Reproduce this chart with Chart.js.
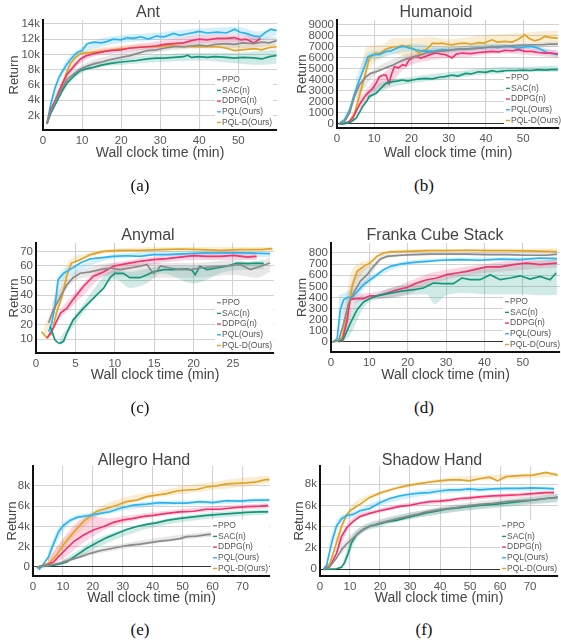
<!DOCTYPE html>
<html>
<head>
<meta charset="utf-8">
<script src="https://cdn.jsdelivr.net/npm/chart.js@4.4.1/dist/chart.umd.min.js"></script>
<style>
  body { margin: 0; background: #fff; }
  #page { position: relative; width: 561px; height: 642px; overflow: hidden; }
  canvas { position: absolute; }
  .ttl { position: absolute; transform: translate(-50%, -50%); font: 16px "Liberation Sans", Arial, sans-serif; color: #444; white-space: nowrap; }
  .cap { position: absolute; transform: translate(-50%, -50%); font: 17px "Liberation Serif", "Times New Roman", serif; color: #111; }
</style>
</head>
<body>
<div id="page"></div>
<script>
// legend + colours
const methodNames = ['PPO', 'SAC(n)', 'DDPG(n)', 'PQL(Ours)', 'PQL-D(Ours)'];
const methodColors = ['#8a8a8a', '#13977b', '#ef3470', '#2bb4f0', '#e1a326'];

// tick values
const min60Ticks = [0, 10, 20, 30, 40, 50];
const min30Ticks = [0, 5, 10, 15, 20, 25];
const min80Ticks = [0, 10, 20, 30, 40, 50, 60, 70];
const antYTicks = [2, 4, 6, 8, 10, 12, 14];
const humYTicks = [0, 1000, 2000, 3000, 4000, 5000, 6000, 7000, 8000, 9000];
const anyYTicks = [10, 20, 30, 40, 50, 60, 70];
const frYTicks = [0, 100, 200, 300, 400, 500, 600, 700, 800];
const handYTicks = [0, 2, 4, 6, 8];

// ---- Ant (k) ----
const antPPO = [[1,0.9],[2,2.6],[3.6,4.3],[5,5.7],[6.2,6.75],[8,7.5],[9.6,8.1],[11,8.4],[13,8.75],[15,9.0],[17,9.3],[20,9.6],[22,9.8],[24,10.1],[26.7,10.5],[29,10.6],[31,10.8],[33.5,11.0],[36,11.0],[38,11.1],[40,11.2],[42,11.1],[44,11.3],[47,11.4],[49,11.3],[51,11.5],[54,11.4],[56,11.6],[58,11.5],[59.8,11.8]];
const antSAC = [[1,0.9],[2,2.3],[3.6,3.9],[5,5.3],[6.2,6.3],[8,7.2],[9.6,7.9],[11,8.1],[13,8.3],[15,8.6],[17,8.8],[20,9.0],[22,9.1],[24,9.2],[26.7,9.4],[29,9.5],[31,9.5],[33.5,9.6],[36,9.7],[37,9.9],[38,9.6],[40,9.7],[42,9.6],[44,9.7],[47,9.6],[49,9.5],[51,9.6],[54,9.55],[56,9.4],[58,9.7],[59.8,9.85]];
const antDDPG = [[1,0.9],[2,2.8],[3.6,4.5],[5,6.2],[6.2,7.4],[8,8.5],[9.6,9.4],[11,9.8],[13,10.1],[15,10.3],[17,10.5],[20,10.6],[22,10.8],[24,10.9],[26.7,11.0],[29,11.1],[31,11.3],[33.5,11.4],[36,11.5],[38,11.8],[40,12.0],[42,11.9],[44.6,12.1],[47,12.1],[49,12.2],[50.7,11.9],[52,12.0],[54,11.5],[55.7,12.1]];
const antPQL = [[1,0.9],[2,3.5],[3,5.5],[4,6.9],[5,7.8],[6,8.6],[7,9.3],[8,9.9],[9,10.3],[10,10.5],[11.3,11.4],[13,11.6],[15,11.5],[16.5,11.7],[18,12.0],[20,11.9],[21.5,12.2],[23,12.1],[25,12.3],[27,12.0],[29,12.4],[31,12.3],[33.5,12.75],[35,12.5],[37,12.7],[40,13.0],[42,12.8],[44.6,12.9],[47,12.8],[49,13.3],[50.5,12.9],[52,12.75],[54,12.4],[55.5,12.3],[57,12.9],[58.3,13.3],[59.8,13.1]];
const antPQLD = [[1,1.0],[2,2.5],[3.2,3.9],[4,5.0],[5.3,6.5],[6,7.6],[7,8.8],[8.3,9.6],[9.6,10.1],[11,10.2],[13,10.3],[15,10.4],[17,10.5],[20,10.75],[22,10.8],[24,10.9],[26.7,11.0],[29,11.0],[31,11.1],[33.5,11.1],[36,11.0],[38,11.05],[40,11.0],[42,11.0],[44.6,11.0],[47,10.8],[49,10.5],[51,10.6],[54,10.75],[56,10.6],[58,10.9],[59.8,11.0]];
const antBands = [
  [[3,3.5,4.3],[6,6.2,7.0],[10,7.7,8.6],[20,9.2,10.2],[30,10.3,11.3],[40,10.8,11.8],[50,10.8,12.0],[59.8,11.2,12.3]],
  [[2,2.0,2.6],[5,5.0,5.7],[10,7.6,8.3],[20,8.6,9.4],[30,9.0,10.0],[40,9.2,10.2],[50,8.8,10.2],[55,8.6,10.4],[59.8,8.8,10.6]],
  [[3,3.8,4.6],[6,6.8,7.6],[10,9.0,9.8],[20,10.2,11.0],[30,10.8,11.8],[40,11.4,12.5],[50,11.6,12.6],[55.7,11.7,12.5]],
  [[2,3.0,4.0],[5,7.2,8.4],[10,10.0,11.0],[15,11.0,12.1],[20,11.5,12.5],[30,11.9,12.9],[40,12.4,13.4],[50,12.6,13.6],[55,11.8,13.0],[59.8,12.5,13.4]],
  [[3,3.5,4.2],[6,7.2,8.0],[10,9.9,10.4],[30,10.8,11.3],[59.8,10.7,11.3]]
];

// ---- Humanoid ----
const humPPO = [[0.7,50],[2,200],[3.4,1000],[4.7,2500],[6,3550],[7.8,4300],[9,4600],[10.5,4750],[12,4950],[13.1,5100],[15,5350],[15.8,5500],[17,5700],[18.5,5900],[20,6050],[21.1,6150],[23,6350],[23.8,6450],[25.5,6500],[27.4,6600],[29,6650],[30.9,6750],[33,6800],[34.5,6800],[36,6850],[38,6900],[40,6950],[41.6,7000],[44,7050],[46.9,7100],[49,7150],[52.2,7200],[55,7200],[57,7250],[59.3,7250]];
const humSAC = [[0.7,0],[3,80],[4,250],[5.2,550],[6.9,1600],[8,2100],[8.7,2500],[10.5,2800],[11.8,3250],[13.1,3700],[14.9,3850],[16,3900],[17.6,4000],[19,3900],[20.2,4000],[22,4100],[23.8,4150],[25.5,4100],[27.4,4250],[29,4300],[30.9,4450],[32.5,4350],[34.5,4600],[36,4550],[38,4750],[40,4700],[41.6,4850],[43,4750],[44.2,4800],[46,4850],[48,4850],[50,4900],[52,4850],[54,4950],[56,4900],[57.5,4950],[59.3,4950]];
const humDDPG = [[0.7,0],[3,150],[4.3,550],[6,1750],[7.8,2650],[9.6,3250],[10.5,3700],[11.4,4300],[12.5,4450],[13.1,4450],[14,3700],[14.6,4500],[15.4,5200],[16.5,5100],[17.6,5400],[18.5,5300],[19.4,5850],[21.1,6150],[22.5,6000],[23.8,6150],[25,6300],[26.5,6450],[28,6350],[29.1,6300],[30.9,6000],[32,6350],[33.6,6450],[36,6400],[38,6500],[40,6550],[41.6,6600],[43.5,6550],[45.1,6700],[47,6650],[48.7,6750],[50.5,6600],[52.2,6600],[54,6500],[55.8,6450],[57.5,6450],[59.3,6350]];
const humPQL = [[0.7,100],[2,400],[3.4,1300],[4.7,2800],[6,4000],[7.4,5200],[8.3,6100],[9.6,6300],[11.4,6300],[13.1,6600],[14.5,6650],[15.4,6800],[16.5,6950],[17.6,7050],[18.5,7000],[19.4,6900],[20.3,6850],[21.1,6750],[22,6700],[22.9,6600],[24,6650],[25.6,6600],[27,6700],[28.2,6750],[30,6700],[30.9,6750],[32.5,6800],[34.5,6800],[36,6850],[38,6900],[40,6950],[41.6,7050],[43,6950],[45.1,7050],[47,7000],[48.7,6900],[50.5,7000],[52.2,7050],[54,6900],[54.9,6750],[56.7,6450],[58,6400],[59.3,6300]];
const humPQLD = [[0.7,0],[2,50],[3.4,250],[4.7,1000],[6,2500],[7.4,4300],[8.7,6000],[10.5,6450],[11.4,6400],[12.3,6600],[13,6800],[14,6900],[15,7000],[16.7,7050],[17.5,7150],[18.5,7050],[19.4,7100],[20.2,6850],[21,6700],[22,6450],[23,6700],[23.8,6750],[24.7,7000],[25.6,7350],[27,7300],[28.2,7350],[29.5,7250],[30.9,7200],[32.5,7300],[34.5,7350],[36,7250],[38,7400],[39.5,7350],[41.6,7650],[43,7450],[45.1,7500],[47,7450],[48.7,7700],[50.4,8100],[51.5,7800],[53.1,7550],[54.5,7700],[55.8,7950],[57.5,7850],[59.3,7800]];
const humBands = [
  [[5,2000,3500],[10,4400,5000],[20,5800,6500],[30,6500,7000],[40,6800,7200],[59.3,7000,7500]],
  [[8,2100,2900],[12,3000,3800],[20,3700,4300],[30,4100,4700],[40,4500,5100],[50,4600,5200],[59.3,4700,5300]],
  [[6,1200,2300],[10,3000,4000],[14,3500,5000],[18,5000,6000],[25,5800,6600],[35,6100,6800],[45,6400,7000],[59.3,6000,6700]],
  [[5,2800,4000],[8,5400,6400],[12,6000,6700],[20,6600,7300],[30,6500,7000],[40,6700,7300],[50,6800,7300],[59.3,6100,6600]],
  [[5,500,1500],[8,4500,7000],[12,6000,7200],[15,6400,7800],[20,6000,7800],[25,6400,7900],[30,6700,7700],[40,7000,8100],[50,7400,8300],[59.3,7400,8500]]
];

// ---- Anymal ----
const anyPPO = [[1.6,21],[2.2,30],[3.1,39],[3.9,47],[4.7,52],[5.6,55],[6.9,56],[8.1,57.5],[9.4,58.6],[10.7,57.5],[11.9,58.6],[13.2,59.8],[14.1,61],[14.6,57],[14.9,55],[15.4,57],[15.8,60],[17,58.6],[18.3,57.5],[19.6,57.5],[20.8,58.6],[22.1,59.3],[23.4,59.8],[24.7,60.2],[25.9,61],[27.2,57.5],[28.5,59.8],[29.7,62]];
const anySAC = [[1.8,18.7],[2.4,9.5],[2.8,7.5],[3.1,7.3],[3.5,8.5],[3.9,14],[4.7,23],[6,31],[7.3,38],[8.6,45],[9.4,52],[10,55],[11.1,55],[11.9,52],[13.2,52],[14.1,54],[14.9,56],[16.2,57.5],[17.5,57.5],[19.2,58],[19.8,57],[20.2,54],[20.8,59.8],[21.7,57.5],[23,58.6],[24.2,59.8],[25.5,62],[26.8,61.6],[28,62],[28.9,61.6]];
const anyDDPG = [[1.4,10.7],[2.2,17.5],[3.1,27.8],[3.9,31],[4.7,37],[6,46],[7.3,53],[8.6,56],[9.8,59.8],[11.5,61.6],[13.2,63.2],[14.9,64.3],[16.6,65],[18.3,66],[20,67],[21.7,66.6],[23.4,66.6],[25.1,67.3],[26.8,66],[28,66.6]];
const anyPQL = [[1.6,15],[2,21],[2.4,32],[2.8,50.6],[3.5,55],[4.3,57.5],[5.6,62],[6.9,64.8],[8.1,65.5],[9.8,66.6],[11.5,67],[13.2,66.6],[14.9,67.8],[16.6,67.8],[19.2,68.4],[21.7,69],[24.2,69],[26.8,69],[29.7,68.4]];
const anyPQLD = [[0.7,15],[1.4,10.7],[2,14],[2.6,27.8],[3.3,39],[3.9,53],[4.5,62],[5.6,64.3],[6.9,67.8],[8.6,70],[10.7,70.7],[13.2,70.7],[15.8,71.2],[18.3,71.6],[20.8,71.2],[23.4,70.7],[25.9,71.2],[28.5,71.2],[30,71.8]];
const anyBands = [
  [[2,25,35],[4,45,52],[6,52,58],[10,53,62],[15,52,62],[20,52,62],[25,54,64],[28,52,62],[29.7,56,66]],
  [[3,5,10],[6,28,34],[10,51,57],[12,45,56],[14,48,58],[16,55,60],[20,48,60],[24,56,61],[28.9,58,64]],
  [[3,24,30],[6,40,48],[8,51,58],[12,58,64],[16,62,67],[20,64,69],[25,64,70],[28,64,69]],
  [[2,18,26],[3,45,55],[5,55,60],[10,65,68],[20,67,70],[29.7,66,69]],
  [[1,10,18],[3,35,43],[4,55,62],[6,64,68],[10,69,72],[20,70,73],[30,70,73]]
];

// ---- Franka Cube Stack ----
const frPPO = [[0.3,0],[2,15],[3.3,166],[4.6,350],[5.9,440],[7.6,545],[9.4,605],[11.1,680],[12.8,745],[14.6,770],[18,780],[21.5,785],[25.9,790],[30.2,790],[35.4,790],[40.6,785],[45.8,785],[51,780],[56.3,780],[58.9,790]];
const frSAC = [[2,0],[3.3,30],[5,165],[6.8,290],[8.5,360],[9.8,385],[12,415],[15.5,440],[18,455],[21.5,470],[24.1,485],[26.7,530],[29.3,525],[31.9,525],[34.1,575],[36.3,560],[38.9,560],[41.5,605],[44.1,560],[46.7,575],[49.3,595],[51.9,565],[54.5,590],[57.1,560],[58.7,620]];
const frDDPG = [[2.9,0],[4.2,195],[5,380],[6.3,390],[8.5,390],[10.2,415],[12,415],[14.6,440],[17.2,470],[19.8,490],[22.4,530],[25,560],[27.6,575],[30.2,605],[32.8,620],[35.4,635],[38,655],[40.6,675],[44.1,675],[47.6,695],[51,710],[54.5,695],[58.9,710]];
const frPQL = [[0.5,0],[1.6,30],[2.4,290],[3.3,380],[4.2,400],[5.5,400],[6.8,450],[8.5,515],[10.2,560],[12,605],[13.7,650],[15.5,680],[18,700],[21.5,715],[25,725],[28.5,735],[33.7,740],[38.9,735],[44.1,745],[49.3,740],[54.5,755],[58.9,750]];
const frPQLD = [[0.3,0],[2,10],[2.9,45],[4.2,225],[5.5,500],[6.8,635],[8.5,680],[10.2,710],[12,770],[13.7,800],[15.5,810],[19.8,815],[25,822],[30.2,822],[35.4,825],[40.6,822],[45.8,822],[51,820],[56.3,815],[58.9,812]];
const frBands = [
  [[3,100,250],[5,350,500],[7,450,650],[10,580,680],[14,750,790],[30,780,800],[58.9,775,800]],
  [[3,0,50],[5,60,260],[8,280,420],[10,360,410],[15,390,480],[20,420,520],[25,430,560],[27,340,560],[30,420,600],[35,440,640],[40,430,680],[45,430,700],[50,430,720],[55,420,730],[58.9,420,750]],
  [[4,50,300],[6,340,420],[10,380,440],[15,400,480],[20,430,540],[25,500,610],[30,560,650],[40,620,700],[50,650,740],[58.9,670,740]],
  [[2,50,420],[4,350,450],[6,380,480],[10,530,590],[20,690,730],[40,730,760],[58.9,735,765]],
  [[3,0,150],[5,350,600],[7,550,700],[10,680,740],[14,790,820],[30,810,835],[58.9,805,840]]
];

// ---- Allegro Hand (k) ----
const alPPO = [[1.3,0],[5.8,0.2],[9.1,0.4],[12.4,0.7],[15.8,1.0],[19.1,1.35],[22.4,1.6],[25.8,1.8],[29.1,2.0],[32.4,2.15],[35.8,2.25],[39.1,2.4],[42.4,2.55],[45.8,2.65],[49.1,2.8],[51.3,3.0],[54.7,3.05],[58,3.2],[60,3.25]];
const alSAC = [[1.3,0],[5.8,0.1],[9.1,0.3],[11.3,0.5],[14.7,1.2],[18,1.85],[21.3,2.4],[24.7,2.9],[28,3.3],[31.3,3.7],[34.7,4.0],[38,4.2],[41.3,4.35],[44.7,4.6],[49.1,4.8],[53.6,4.95],[58,5.1],[62.4,5.2],[66.9,5.3],[71.3,5.4],[75.8,5.45],[78.6,5.45]];
const alDDPG = [[1.3,0],[4.7,0.2],[6.9,0.5],[9.1,1.2],[11.3,1.85],[13.6,2.5],[16.9,3.15],[20.2,3.65],[23.6,4.0],[26.9,4.4],[30.2,4.65],[33.6,4.8],[36.9,5.0],[40.2,5.1],[44.7,5.3],[49.1,5.45],[53.6,5.5],[58,5.7],[62.4,5.7],[66.9,5.85],[71.3,5.95],[75.8,6.0],[78.6,6.05]];
const alPQL = [[1.3,0],[2.2,-0.2],[3.6,0.35],[5.2,1.0],[6.9,2.3],[8.6,3.5],[10.2,4.1],[12.4,4.6],[14.7,4.9],[16.9,5.0],[19.1,5.1],[22.4,5.3],[25.8,5.45],[29.1,5.8],[33.6,6.1],[38,6.2],[42.4,6.35],[46.9,6.3],[51.3,6.3],[55.8,6.45],[60.2,6.35],[64.7,6.55],[69.1,6.5],[73.6,6.6],[79,6.6]];
const alPQLD = [[1.3,0],[3.6,0.2],[5.8,0.5],[8,1.2],[10.2,2.2],[12.4,3.0],[14.7,3.8],[16.9,4.5],[19.1,5.0],[21.3,5.5],[24.7,5.8],[28,6.1],[31.3,6.45],[34.7,6.6],[38,6.95],[41.3,7.1],[44.7,7.25],[48,7.5],[51.3,7.6],[54.7,7.65],[58,7.9],[61.3,8.0],[64.7,8.2],[68,8.25],[71.3,8.3],[74.7,8.4],[78,8.65],[79,8.6]];
const alBands = [
  [[10,0.3,0.7],[20,1.2,1.7],[30,1.8,2.3],[40,2.3,2.8],[50,2.7,3.2],[60,3.0,3.5]],
  [[10,0.2,0.7],[15,0.9,1.6],[20,1.7,2.6],[30,3.0,3.7],[40,3.9,4.5],[60,4.8,5.4],[78.6,5.2,5.7]],
  [[5,0.1,0.8],[10,0.8,2.8],[15,2.0,4.5],[20,3.0,5.0],[25,3.8,4.8],[30,4.3,5.0],[40,4.9,5.4],[60,5.5,6.0],[78.6,5.8,6.3]],
  [[5,0.6,1.5],[8,2.5,3.6],[12,4.2,4.8],[20,4.9,5.4],[40,6.0,6.5],[60,6.2,6.6],[79,6.4,6.8]],
  [[5,0.3,0.7],[10,1.8,2.6],[20,4.7,5.5],[30,6.0,6.8],[40,6.8,7.4],[50,7.2,8.0],[60,7.6,8.4],[70,7.9,8.8],[79,8.3,9.0]]
];

// ---- Shadow Hand (k) ----
const shPPO = [[1.1,0],[3.3,0.25],[5.5,1.05],[7.2,1.85],[8.9,2.4],[11.1,2.95],[13.3,3.5],[15.5,3.9],[18.8,4.25],[22.1,4.5],[25.5,4.75],[28.8,4.95],[32.1,5.15],[35.4,5.4],[38.8,5.55],[42.1,5.7],[45.4,5.8],[48.7,5.95],[53.2,6.1],[57.6,6.2],[62,6.35],[66.4,6.45],[70.9,6.5],[75.3,6.65],[79.2,6.75]];
const shSAC = [[1.1,0],[5.5,0.05],[7.2,0.2],[8.3,0.7],[9.4,1.5],[10.5,2.5],[12.2,3.25],[14.4,3.75],[16.6,4.05],[18.8,4.2],[22.1,4.45],[25.5,4.6],[28.8,4.85],[32.1,5.05],[35.4,5.3],[38.8,5.45],[42.1,5.65],[45.4,5.75],[48.7,5.85],[53.2,6.0],[57.6,6.1],[62,6.2],[66.4,6.35],[70.9,6.5],[75.3,6.65],[79.2,6.75]];
const shDDPG = [[1.1,0],[3.3,0.25],[5.5,1.5],[7.2,3.1],[8.9,3.9],[11.1,4.5],[13.3,4.95],[16.6,5.25],[19.9,5.5],[23.3,5.7],[26.6,5.9],[29.9,6.0],[33.2,6.2],[36.5,6.35],[39.9,6.4],[43.2,6.5],[46.5,6.65],[49.8,6.7],[53.2,6.8],[57.6,6.9],[62,6.95],[66.4,7.0],[70.9,7.1],[75.3,7.2],[78,7.2]];
const shPQL = [[1.1,0],[2.2,0.4],[3.9,2.5],[5.5,4.05],[7.2,4.75],[8.9,5.05],[11.1,5.15],[13.3,5.5],[16.6,5.7],[19.9,6.25],[23.3,6.65],[26.6,6.9],[29.9,7.05],[33.2,7.15],[36.5,7.2],[39.9,7.35],[43.2,7.45],[46.5,7.45],[49.8,7.55],[53.2,7.45],[57.6,7.55],[62,7.6],[66.4,7.6],[70.9,7.65],[75.3,7.6],[78,7.55]];
const shPQLD = [[1.1,0],[3.3,0.55],[5.5,2.5],[7.2,4.05],[8.9,5.15],[10.5,5.6],[13.3,6.1],[16.6,6.75],[19.9,7.15],[23.3,7.45],[26.6,7.7],[29.9,7.9],[33.2,8.05],[36.5,8.2],[39.9,8.3],[43.2,8.4],[46.5,8.4],[49.8,8.3],[53.2,8.5],[56.5,8.65],[59.2,8.3],[62,8.7],[66.4,8.8],[70.9,8.85],[75.3,9.1],[79.2,8.85]];
const shBands = [
  [[7,1.3,2.3],[10,2.4,3.2],[15,3.6,4.2],[30,4.7,5.3],[50,5.6,6.3],[79.2,6.4,7.1]],
  [[8,0.2,1.0],[10,1.5,2.8],[12,2.8,3.6],[20,4.0,4.6],[40,5.2,5.8],[60,5.8,6.4],[79.2,6.3,7.1]],
  [[6,1.6,2.8],[10,4.0,4.6],[20,5.3,5.7],[40,6.2,6.6],[60,6.7,7.1],[78,7.0,7.4]],
  [[3,1.0,2.5],[6,4.0,4.8],[10,4.8,5.3],[20,6.0,6.5],[40,7.1,7.6],[78,7.4,7.8]],
  [[5,2.0,2.9],[10,5.3,5.8],[20,7.0,7.3],[40,8.1,8.5],[60,8.4,8.9],[79.2,8.7,9.1]]
];

Chart.defaults.font.family = '"Liberation Sans", Arial, sans-serif';

// layout: canvas = [left, top, w, h], plot = [L, T, R, B] in page px
const panels = [
  { title: 'Ant', cap: '(a)', series: [antPPO, antSAC, antDDPG, antPQL, antPQLD], bands: antBands,
    canvas: [0, 14, 281, 148], plot: [43, 20, 277, 130], xMax: 59.9, xTicks: min60Ticks,
    yMin: 0.1, yMax: 14.5, yTicks: antYTicks, kFmt: true, titleAt: [148, 12], capAt: [140, 186], yPad: 7, legOff: 60 },
  { title: 'Humanoid', cap: '(b)', series: [humPPO, humSAC, humDDPG, humPQL, humPQLD], bands: humBands,
    canvas: [281, 14, 280, 148], plot: [337, 20, 559, 128], xMax: 59.6, xTicks: min60Ticks,
    yMin: -360, yMax: 9450, yTicks: humYTicks, kFmt: false, titleAt: [436, 12], capAt: [424, 186], yPad: 14, legOff: 53 },
  { title: 'Anymal', cap: '(c)', series: [anyPPO, anySAC, anyDDPG, anyPQL, anyPQLD], bands: anyBands,
    canvas: [0, 236, 281, 148], plot: [36, 243, 274, 353], xMax: 30.2, xTicks: min30Ticks,
    yMin: 0.5, yMax: 75.7, yTicks: anyYTicks, kFmt: false, titleAt: [148, 235], capAt: [140, 408], yPad: 7, legOff: 57 },
  { title: 'Franka Cube Stack', cap: '(d)', series: [frPPO, frSAC, frDDPG, frPQL, frPQLD], bands: frBands,
    canvas: [281, 236, 280, 148], plot: [331, 243, 560, 352], xMax: 59.7, xTicks: min60Ticks,
    yMin: -90, yMax: 890, yTicks: frYTicks, kFmt: false, titleAt: [435, 235], capAt: [424, 408], yPad: 14, legOff: 55 },
  { title: 'Allegro Hand', cap: '(e)', series: [alPPO, alSAC, alDDPG, alPQL, alPQLD], bands: alBands,
    canvas: [0, 459, 281, 148], plot: [33, 466, 270, 576], xMax: 79.2, xTicks: min80Ticks,
    yMin: -0.89, yMax: 9.97, yTicks: handYTicks, kFmt: true, titleAt: [144, 460], capAt: [140, 630], yPad: 4.5, legOff: 57 },
  { title: 'Shadow Hand', cap: '(f)', series: [shPPO, shSAC, shDDPG, shPQL, shPQLD], bands: shBands,
    canvas: [281, 459, 280, 148], plot: [320, 466, 558, 576], xMax: 79.3, xTicks: min80Ticks,
    yMin: -0.63, yMax: 9.7, yTicks: handYTicks, kFmt: true, titleAt: [432, 460], capAt: [424, 630], yPad: 10.5, legOff: 56 }
];

function hexA(hex, a) {
  const n = parseInt(hex.slice(1), 16);
  return `rgba(${n >> 16},${(n >> 8) & 255},${n & 255},${a})`;
}

// white legend box in the lower right corner of the plot
const boxLegend = {
  id: 'boxLegend',
  afterDatasetsDraw(chart, args, opts) {
    const {ctx, chartArea} = chart;
    ctx.save();
    ctx.font = '8.5px "Liberation Sans", Arial, sans-serif';
    const rowH = 10.7;
    const x0 = chartArea.right - opts.offset;
    const yLast = chartArea.bottom - 7.5;
    const y0 = yLast - (methodNames.length - 1) * rowH;
    const w = Math.max(...methodNames.map(t => ctx.measureText(t).width)) + 6;
    ctx.fillStyle = '#fff';
    ctx.fillRect(x0 - 2, y0 - 6, w + 2, yLast - y0 + 12);
    methodNames.forEach((name, i) => {
      const y = y0 + i * rowH;
      ctx.strokeStyle = methodColors[i];
      ctx.lineWidth = 1.4;
      ctx.beginPath(); ctx.moveTo(x0, y); ctx.lineTo(x0 + 4, y); ctx.stroke();
      ctx.fillStyle = '#555';
      ctx.textBaseline = 'middle';
      ctx.fillText(name, x0 + 5, y);
    });
    ctx.restore();
  }
};

const page = document.getElementById('page');

panels.forEach(p => {
  const [cl, ct, cw, ch] = p.canvas;
  const [L, T, R, B] = p.plot;
  const cv = document.createElement('canvas');
  cv.width = cw; cv.height = ch;
  cv.style.left = cl + 'px'; cv.style.top = ct + 'px';
  cv.style.width = cw + 'px'; cv.style.height = ch + 'px';
  page.appendChild(cv);

  const t = document.createElement('div');
  t.className = 'ttl'; t.textContent = p.title;
  t.style.left = p.titleAt[0] + 'px'; t.style.top = p.titleAt[1] + 'px';
  page.appendChild(t);
  const c = document.createElement('div');
  c.className = 'cap'; c.textContent = p.cap;
  c.style.left = p.capAt[0] + 'px'; c.style.top = p.capAt[1] + 'px';
  page.appendChild(c);

  const datasets = [];
  // lines first so they sit on top (lower order)
  p.series.forEach((s, i) => {
    datasets.push({
      data: s.map(([x, y]) => ({x, y})),
      borderColor: methodColors[i], borderWidth: 1.7,
      pointRadius: 0, tension: 0, fill: false, order: 0
    });
  });
  p.bands.forEach((b, i) => {
    const lo = datasets.length;
    datasets.push({
      data: b.map(([x, l]) => ({x, y: l})),
      borderWidth: 0, pointRadius: 0, cubicInterpolationMode: 'monotone', fill: false, order: 1
    });
    datasets.push({
      data: b.map(([x, , h]) => ({x, y: h})),
      borderWidth: 0, pointRadius: 0, cubicInterpolationMode: 'monotone', fill: lo,
      backgroundColor: hexA(methodColors[i], 0.2), order: 1
    });
  });

  new Chart(cv, {
    type: 'line',
    data: { datasets },
    options: {
      responsive: false,
      animation: false,
      devicePixelRatio: 1,
      layout: { padding: { left: 0, top: T - ct, right: cl + cw - R, bottom: 0 } },
      plugins: {
        legend: { display: false },
        tooltip: { enabled: false },
        boxLegend: { offset: p.legOff }
      },
      scales: {
        x: {
          type: 'linear', min: 0, max: p.xMax,
          afterBuildTicks(s) { s.ticks = p.xTicks.map(value => ({value})); },
          ticks: { padding: 4, color: '#555', font: { size: 11.5 }, maxRotation: 0, autoSkip: false },
          grid: { color: '#d2d2d2', lineWidth: 1.1, drawTicks: false },
          border: { color: '#111', width: 2 },
          title: { display: true, text: 'Wall clock time (min)', color: '#444', font: { size: 14 }, padding: 0 },
          afterFit(s) { s.height = ct + ch - B; s.paddingLeft = 0; s.paddingRight = 0; }
        },
        y: {
          min: p.yMin, max: p.yMax,
          afterBuildTicks(s) { s.ticks = p.yTicks.map(value => ({value})); },
          ticks: {
            padding: 3, color: '#555', font: { size: 11.5 }, autoSkip: false,
            callback: v => p.kFmt ? (v === 0 ? '0' : v + 'k') : String(v)
          },
          grid: {
            color: ctx => (ctx.tick && ctx.tick.value === 0) ? '#333' : '#d2d2d2',
            lineWidth: 1.1, drawTicks: false
          },
          border: { color: '#111', width: 2 },
          title: { display: true, text: 'Return', color: '#444', font: { size: 13 }, padding: { top: p.yPad, bottom: 0 } },
          afterFit(s) { s.width = L - cl; s.paddingTop = 0; s.paddingBottom = 0; }
        }
      }
    },
    plugins: [boxLegend]
  });
});
</script>
</body>
</html>
